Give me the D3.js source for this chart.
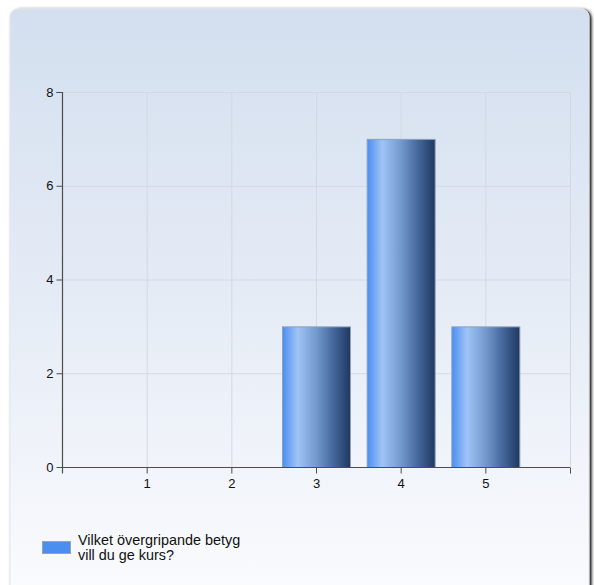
<!DOCTYPE html>
<html>
<head>
<meta charset="utf-8">
<script src="https://cdn.jsdelivr.net/npm/d3@7"></script>
<style>
html,body{margin:0;padding:0;background:#fff;}
svg{display:block;font-family:"Liberation Sans",Arial,sans-serif;}
</style>
</head>
<body>
<svg id="chart" width="594" height="585"></svg>
<script>
const categories = [1, 2, 3, 4, 5];
const values = [0, 0, 3, 7, 3];
const yTicks = [0, 2, 4, 6, 8];
const seriesName = ["Vilket övergripande betyg", "vill du ge kurs?"];

const svg = d3.select("#chart");
const defs = svg.append("defs");

const bg = defs.append("linearGradient").attr("id","bg").attr("x1",0).attr("y1",0).attr("x2",0).attr("y2",1);
bg.append("stop").attr("offset","0").attr("stop-color","#d3dfef");
bg.append("stop").attr("offset","0.5").attr("stop-color","#e6ecf6");
bg.append("stop").attr("offset","1").attr("stop-color","#fbfcfe");

const bar = defs.append("linearGradient").attr("id","bar").attr("x1",0).attr("y1",0).attr("x2",1).attr("y2",0);
[["0","#4a8ef0"],["0.22","#9fc4f6"],["0.5","#7399cc"],["0.75","#44679b"],["1","#1e3860"]]
  .forEach(([o,c]) => bar.append("stop").attr("offset",o).attr("stop-color",c));

const sh = defs.append("filter").attr("id","sh").attr("x","-5%").attr("y","-5%").attr("width","115%").attr("height","115%");
sh.append("feGaussianBlur").attr("in","SourceAlpha").attr("stdDeviation",1.5);
sh.append("feOffset").attr("dx",2).attr("dy",1).attr("result","b");
const fm = sh.append("feMerge");
fm.append("feMergeNode").attr("in","b");
fm.append("feMergeNode").attr("in","SourceGraphic");

// panel
svg.append("rect").attr("x",10).attr("y",9).attr("width",579).attr("height",600)
  .attr("rx",8).attr("fill","url(#bg)").attr("stroke","#e2e6ec").attr("filter","url(#sh)");

const L = 62, R = 570, T = 92, B = 467;
const x = d3.scaleLinear().domain([0, 6]).range([L, R]);
const y = d3.scaleLinear().domain([0, 8]).range([B, T]);

// grid
const g = svg.append("g");
g.selectAll(".vg").data(d3.range(0,7)).join("line")
  .attr("x1", d => x(d)+0.5).attr("x2", d => x(d)+0.5)
  .attr("y1", T).attr("y2", B).attr("stroke","#d4d9e1").attr("stroke-width",1);
g.selectAll(".hg").data(yTicks.filter(d=>d>0)).join("line")
  .attr("x1", L).attr("x2", R).attr("y1", d => y(d)+0.5).attr("y2", d => y(d)+0.5)
  .attr("stroke","#d4d9e1").attr("stroke-width",1);

// bars
const bw = 68;
svg.append("g").selectAll("rect").data(categories.map((c,i)=>({c, v: values[i]})).filter(d=>d.v>0))
  .join("rect")
  .attr("x", d => x(d.c) - bw/2 + 0.5)
  .attr("y", d => y(d.v) + 0.5)
  .attr("width", bw)
  .attr("height", d => y(0) - y(d.v))
  .attr("fill","url(#bar)")
  .attr("stroke","#8ea0bb").attr("stroke-width",1);

// axes
const axisColor = "#4d4d4d";
const xa = svg.append("g").attr("transform",`translate(0,${B+0.5})`)
  .call(d3.axisBottom(x).tickValues(d3.range(0,7)).tickSize(6).tickPadding(5)
    .tickFormat(d => categories.includes(d) ? d : ""));
const ya = svg.append("g").attr("transform",`translate(${L+0.5},0)`)
  .call(d3.axisLeft(y).tickValues(yTicks).tickSize(6).tickPadding(3));
[xa, ya].forEach(a => {
  a.select(".domain").attr("stroke", axisColor).attr("stroke-width",1.2);
  a.selectAll(".tick line").attr("stroke", axisColor);
  a.selectAll("text").attr("fill","#111").attr("font-size",13)
    .attr("font-family",'"Liberation Sans",Arial,sans-serif');
});
ya.select(".domain").attr("d", `M-6,${T+0.5}H0V${B+6}`);
xa.select(".domain").attr("d", `M${L},0H${R}`);

// legend
svg.append("rect").attr("x",42.5).attr("y",541.5).attr("width",28).attr("height",12)
  .attr("fill","#4a8ef0").attr("stroke","#9aa4b2");
svg.append("text").attr("x",78).attr("y",545).attr("font-size",14.4).attr("fill","#111")
  .selectAll("tspan").data(seriesName).join("tspan")
  .attr("x",78).attr("dy",(d,i)=> i===0 ? 0 : 15).text(d=>d);
</script>
</body>
</html>
